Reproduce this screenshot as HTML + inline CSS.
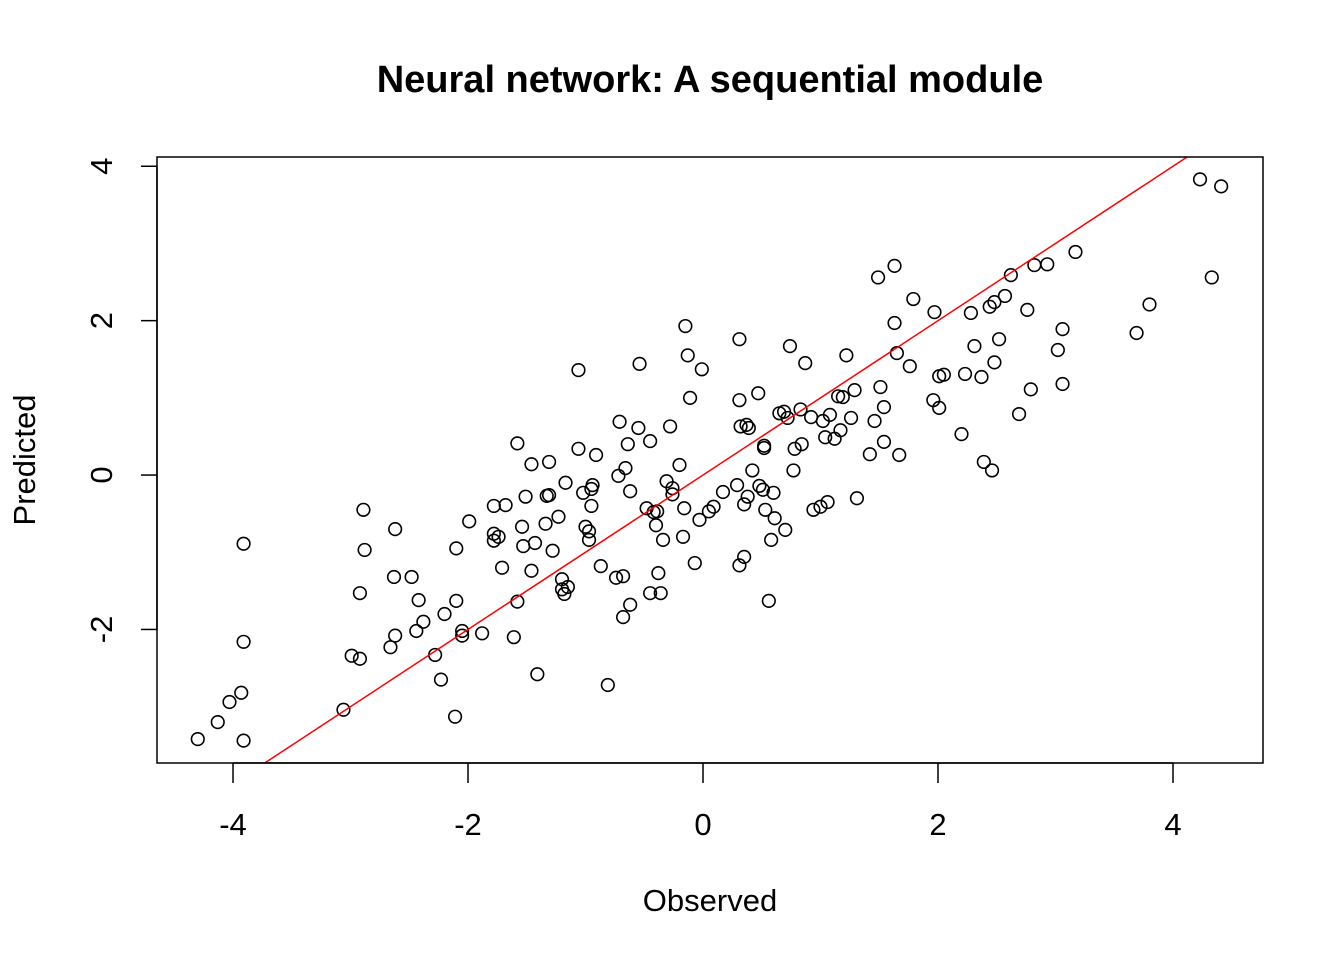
<!DOCTYPE html>
<html><head><meta charset="utf-8"><style>
html,body{margin:0;padding:0;background:#fff;}
svg{display:block;font-family:"Liberation Sans",Arial,sans-serif;}
</style></head>
<body>
<svg id="chart" width="1344" height="960" viewBox="0 0 1344 960" xmlns="http://www.w3.org/2000/svg">
<rect width="1344" height="960" fill="#fff"/>
<text x="710" y="92" text-anchor="middle" font-size="38" font-weight="bold">Neural network: A sequential module</text>
<text x="710" y="911" text-anchor="middle" font-size="31">Observed</text>
<text transform="translate(35,460) rotate(-90)" text-anchor="middle" font-size="31">Predicted</text>
<g id="axes"></g>
<g id="marks"></g>
<rect x="157" y="157" width="1106" height="606" fill="none" stroke="#000" stroke-width="1.5"/>
</svg>
<script>
const xTicks=[-4,-2,0,2,4];
const yTicks=[-2,0,2,4];
const xTickLabels=["-4","-2","0","2","4"];
const yTickLabels=["-2","0","2","4"];
const observed=[-4.30,-4.13,-4.03,-3.93,-3.91,-3.91,-3.91,-3.06,-2.99,-2.92,-2.92,-2.89,-2.88,-2.66,-2.62,-2.63,-2.62,-2.48,-2.44,-2.42,-2.38,-2.28,-2.23,-2.20,-2.11,-2.10,-2.10,-2.05,-2.05,-1.99,-1.88,-1.78,-1.78,-1.78,-1.74,-1.71,-1.68,-1.61,-1.58,-1.58,-1.54,-1.53,-1.51,-1.46,-1.46,-1.43,-1.41,-1.34,-1.33,-1.31,-1.31,-1.28,-1.23,-1.20,-1.20,-1.17,-1.18,-1.15,-1.06,-1.06,-1.02,-1.00,-0.97,-0.97,-0.95,-0.94,-0.95,-0.91,-0.87,-0.81,-0.74,-0.72,-0.71,-0.68,-0.68,-0.66,-0.64,-0.62,-0.62,-0.55,-0.54,-0.48,-0.45,-0.45,-0.42,-0.40,-0.39,-0.38,-0.36,-0.34,-0.31,-0.28,-0.26,-0.26,-0.20,-0.17,-0.16,-0.15,-0.13,-0.11,-0.07,-0.03,-0.01,0.05,0.09,0.17,0.29,0.31,0.31,0.31,0.32,0.35,0.35,0.37,0.38,0.39,0.42,0.47,0.48,0.51,0.52,0.52,0.53,0.56,0.58,0.60,0.61,0.65,0.69,0.70,0.72,0.74,0.77,0.78,0.83,0.84,0.87,0.92,0.94,1.00,1.02,1.06,1.04,1.08,1.12,1.15,1.17,1.19,1.22,1.26,1.29,1.31,1.42,1.46,1.49,1.51,1.54,1.54,1.63,1.63,1.65,1.67,1.76,1.79,1.96,1.97,2.01,2.01,2.05,2.20,2.23,2.28,2.31,2.37,2.39,2.44,2.46,2.48,2.48,2.52,2.57,2.62,2.69,2.76,2.79,2.82,2.93,3.02,3.06,3.06,3.17,3.69,3.80,4.23,4.33,4.41];
const predicted=[-3.42,-3.20,-2.94,-2.82,-3.44,-2.16,-0.89,-3.04,-2.34,-2.38,-1.53,-0.45,-0.97,-2.23,-2.08,-1.32,-0.70,-1.32,-2.02,-1.62,-1.90,-2.33,-2.65,-1.80,-3.13,-1.63,-0.95,-2.02,-2.08,-0.60,-2.05,-0.76,-0.40,-0.85,-0.80,-1.20,-0.39,-2.10,-1.64,0.41,-0.67,-0.92,-0.28,0.14,-1.24,-0.88,-2.58,-0.63,-0.27,-0.26,0.17,-0.98,-0.54,-1.35,-1.48,-0.10,-1.54,-1.45,1.36,0.34,-0.23,-0.67,-0.84,-0.73,-0.18,-0.13,-0.40,0.26,-1.18,-2.72,-1.33,-0.01,0.69,-1.31,-1.84,0.09,0.40,-0.21,-1.68,0.61,1.44,-0.43,0.44,-1.53,-0.48,-0.65,-0.47,-1.27,-1.53,-0.84,-0.08,0.63,-0.25,-0.17,0.13,-0.80,-0.43,1.93,1.55,1.00,-1.14,-0.58,1.37,-0.47,-0.41,-0.22,-0.13,-1.17,1.76,0.97,0.63,-1.06,-0.38,0.65,-0.28,0.61,0.06,1.06,-0.14,-0.19,0.35,0.38,-0.45,-1.63,-0.84,-0.23,-0.56,0.80,0.82,-0.71,0.74,1.67,0.06,0.34,0.85,0.40,1.45,0.75,-0.45,-0.41,0.70,-0.35,0.49,0.78,0.47,1.02,0.58,1.01,1.55,0.74,1.10,-0.30,0.27,0.70,2.56,1.14,0.43,0.88,1.97,2.71,1.58,0.26,1.41,2.28,0.97,2.11,1.28,0.87,1.30,0.53,1.31,2.10,1.67,1.27,0.17,2.18,0.06,1.46,2.24,1.76,2.32,2.59,0.79,2.14,1.11,2.72,2.73,1.62,1.89,1.18,2.89,1.84,2.21,3.83,2.56,3.74];
const refLine=[[-5,-5],[5,5]];

const X0=157,X1=1263,Y0=157,Y1=763;
const xMin=-4.647,xMax=4.766,yMin=-3.73,yMax=4.12;
function sx(v){return X0+(v-xMin)/(xMax-xMin)*(X1-X0);}
function sy(v){return Y1-(v-yMin)/(yMax-yMin)*(Y1-Y0);}
const NS="http://www.w3.org/2000/svg";
function mk(tag,attrs,parent){const e=document.createElementNS(NS,tag);for(const k in attrs)e.setAttribute(k,attrs[k]);parent.appendChild(e);return e;}
const axes=document.getElementById('axes'),marks=document.getElementById('marks');

let xa=mk('line',{x1:sx(xTicks[0]),x2:sx(xTicks[xTicks.length-1]),y1:763,y2:763,stroke:'#000','stroke-width':1.5},axes);


xTicks.forEach((t,i)=>{
  const l=mk('line',{x1:sx(t),x2:sx(t),y1:763,y2:783,stroke:'#000','stroke-width':1.5},axes);
  
  
  const tx=mk('text',{x:sx(t),y:835,'text-anchor':'middle','font-size':31},axes);
  tx.textContent=xTickLabels[i];
  
  
});
let ya=mk('line',{x1:157,x2:157,y1:sy(yTicks[0]),y2:sy(yTicks[yTicks.length-1]),stroke:'#000','stroke-width':1.5},axes);


yTicks.forEach((t,i)=>{
  const l=mk('line',{x1:141,x2:157,y1:sy(t),y2:sy(t),stroke:'#000','stroke-width':1.5},axes);
  
  
  const tx=mk('text',{transform:`translate(112,${sy(t)}) rotate(-90)`,'text-anchor':'middle','font-size':31},axes);
  tx.textContent=yTickLabels[i];
  
  
});

observed.forEach((o,i)=>{
  const c=mk('circle',{cx:sx(o),cy:sy(predicted[i]),r:6.3,fill:'none',stroke:'#000','stroke-width':1.6},marks);
  
  
});

const clip=mk('clipPath',{id:'pc'},document.getElementById('chart'));
mk('rect',{x:X0,y:Y0,width:X1-X0,height:Y1-Y0},clip);
const rl=mk('line',{x1:sx(refLine[0][0]),y1:sy(refLine[0][1]),x2:sx(refLine[1][0]),y2:sy(refLine[1][1]),stroke:'#ff0000','stroke-width':1.5,'clip-path':'url(#pc)'},marks);


</script>
</body></html>
